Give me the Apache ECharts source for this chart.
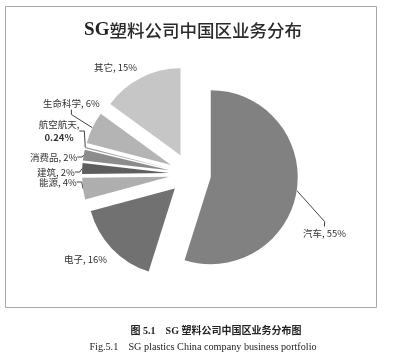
<!DOCTYPE html>
<html><head><meta charset="utf-8">
<script src="https://cdn.jsdelivr.net/npm/echarts@6/dist/echarts.min.js"></script>
<style>html,body{margin:0;padding:0;background:#fff}#c{width:396px;height:356px}</style>
</head><body><div id="c"></div>
<script>
const categories = ['汽车', '电子', '能源', '建筑', '消费品', '航空航天', '生命科学', '其它'];
const values = [55, 16, 4, 2, 2, 0.24, 6, 15];
const labelTexts = ['汽车, 55%', '电子, 16%', '能源, 4%', '建筑, 2%', '消费品, 2%', '航空航天,\n{b|0.24%}', '生命科学, 6%', '其它, 15%'];

const colors = ['#818181', '#717171', '#aeaeae', '#5e5e5e', '#8c8c8c', '#9a9a9a', '#b4b4b4', '#c6c6c6'];
const labelPos = [[303,233,'left'],[64,259,'left'],[39,182,'left'],[37,172,'left'],[30,157,'left'],[59,131,'center'],[43,103,'left'],[94,67,'left']];
const showLine = [true,false,true,true,true,true,true,false];

const chart = echarts.init(document.getElementById('c'), null, {renderer:'canvas'});
const pieData = categories.map((c,i)=>({
  name: c, value: values[i], selected: true,
  itemStyle: {color: colors[i]}
}));
const labelData = categories.map((c,i)=>({
  name: c, value: values[i],
  label: {formatter: labelTexts[i], align: labelPos[i][2]},
  labelLine: {show: showLine[i]}
}));
chart.setOption({
  backgroundColor: '#fff',
  animation: false,
  title: [
    {text: '{a|SG}{b|塑料公司中国区业务分布}', left: 188, top: 16, textAlign: 'center',
     textStyle: {rich: {
       a: {fontFamily: 'Liberation Serif', fontWeight: 'bold', fontSize: 19, color: '#222'},
       b: {fontFamily: 'Noto Sans CJK SC', fontWeight: 500, fontSize: 17.5, color: '#2a2a2a'}
     }}},
    {text: '图 5.1    SG 塑料公司中国区业务分布图', left: 211, top: 321, textAlign: 'center',
     textStyle: {fontFamily: 'Liberation Serif, Noto Sans CJK SC', fontWeight: 'bold', fontSize: 10, color: '#222'}},
    {text: 'Fig.5.1    SG plastics China company business portfolio', left: 198, top: 337, textAlign: 'center',
     textStyle: {fontFamily: 'Liberation Serif', fontWeight: 'normal', fontSize: 10.2, color: '#222'}}
  ],
  graphic: [{type:'rect', shape:{x:5.5,y:6.5,width:371,height:301}, style:{fill:null, stroke:'#a8a8a8', lineWidth:1}, z:-1}],
  series: [{
    type: 'pie',
    center: [190, 174],
    radius: 87,
    startAngle: 90,
    clockwise: true,
    selectedMode: 'multiple',
    selectedOffset: 21,
    emphasis: {disabled: true},
    label: {show: false},
    labelLine: {show: false},
    data: pieData
  }, {
    type: 'pie',
    center: [190, 174],
    radius: 108,
    startAngle: 90,
    clockwise: true,
    silent: true,
    avoidLabelOverlap: false,
    emphasis: {disabled: true},
    itemStyle: {color: 'rgba(0,0,0,0)'},
    label: {show: true, position: 'outside', fontSize: 9.5, color: '#333', lineHeight: 13,
      fontFamily: 'Noto Sans CJK SC',
      rich: {b: {fontSize: 9.5, fontWeight: 'bold', color: '#333', fontFamily: 'Noto Sans CJK SC', lineHeight: 13}}},
    labelLine: {show: true, length: 5, length2: 5, lineStyle: {color: '#444', width: 1}},
    labelLayout: function(p){
      const lp = labelPos[p.dataIndex];
      return {x: lp[0], y: lp[1], verticalAlign: 'middle', align: lp[2]};
    },
    data: labelData
  }]
});
</script></body></html>
